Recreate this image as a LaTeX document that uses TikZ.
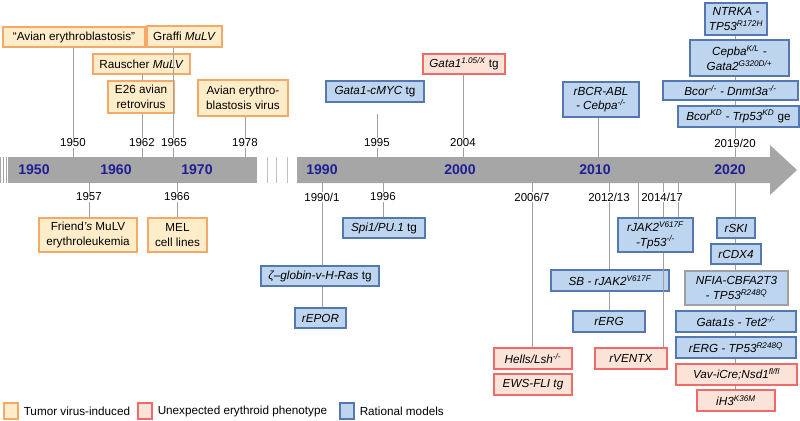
\documentclass[tikz,border=0pt]{standalone}
\usepackage{fontspec}
\setmainfont{Liberation Sans}
\usetikzlibrary{positioning}
\definecolor{virusfill}{HTML}{FFEDC9}
\definecolor{virusline}{HTML}{F4AA66}
\definecolor{oddfill}{HTML}{FCE3D8}
\definecolor{oddline}{HTML}{F06A6A}
\definecolor{ratfill}{HTML}{BDD5EE}
\definecolor{ratline}{HTML}{5578B0}
\definecolor{bargrey}{HTML}{A6A6A6}
\definecolor{linkgrey}{HTML}{A0A0A0}
\definecolor{decblue}{HTML}{1E1E96}
\tikzstyle{box} = [rectangle, inner sep=1pt, align=center, line width=0.9pt, font=\fontsize{10}{12.5}\selectfont]
\tikzstyle{virus} = [box, fill=virusfill, draw=virusline]
\tikzstyle{odd} = [box, fill=oddfill, draw=oddline]
\tikzstyle{rational} = [box, fill=ratfill, draw=ratline]
\tikzstyle{link} = [draw=linkgrey, line width=0.8pt]
\tikzstyle{yearlab} = [fill=white, inner sep=1pt, font=\fontsize{9.8}{11}\selectfont]
\tikzstyle{decade} = [text=decblue, font=\fontsize{12}{14}\selectfont\bfseries]
\tikzstyle{keytext} = [inner sep=0pt, font=\fontsize{10}{12}\selectfont]
\tikzset{wh/.style 2 args={minimum width=#1*0.03cm, minimum height=#2*0.03cm}}

\begin{document}
\begin{tikzpicture}[x=0.03cm, y=-0.03cm]
\useasboundingbox (0,0) rectangle (800,421);

% time bar
\foreach \s in {0, 3, 5.8}
  \fill[bargrey] (\s,157) rectangle ++(1.4,26);
\fill[bargrey] (8,157) rectangle (257,183);
\foreach \s in {266.5, 275.5, 286.5}
  \fill[bargrey!70] (\s,157) rectangle ++(1.2,26);
\fill[bargrey] (297,157) -- (770,157) -- (770,145) -- (797,170) -- (770,195) -- (770,183) -- (297,183) -- cycle;
\foreach \y/\x in {1950/34, 1960/116, 1970/197, 1990/322, 2000/460, 2010/595, 2020/730}
  \node[decade] (dec\y) at (\x,170) {\y};

\foreach \n/\x in {a1950/73, a1962/142, a1965/173, a1978/245, a1995/377, a2004/463, a2010/598, a2019/735}
  \coordinate (\n) at (\x,157);
\foreach \n/\x in {b1957/89, b1966/177, b1990/322, b1996/383, b2006/532, b2012/609, b2014a/638, b2014/663, b2014c/678, b2020/735}
  \coordinate (\n) at (\x,183);

% above the bar
\node (avian) [virus, wh={142}{20}] at (74,37) {“Avian erythroblastosis”};
\node (graffi) [virus, wh={75}{21}] at (184.5,36.5) {Graffi \textit{MuLV}};
\node (rausch) [virus, wh={97}{20}] at (141.5,64) {Rauscher \textit{MuLV}};
\node (etwosix) [virus, wh={66}{32}] at (141,97) {E26 avian\\retrovirus};
\node (aevirus) [virus, wh={90}{36}] at (243,98) {Avian erythro-\\blastosis virus};
\node (gatamyc) [rational, wh={98}{21}] at (375,91.5) {\textit{Gata1-cMYC} tg};
\node (gatalow) [odd, wh={82}{20}] at (464,64) {\textit{Gata1\textsuperscript{1.05/X}} tg};
\node (bcrabl) [rational, wh={76}{35}] at (601,99.5) {\textit{rBCR-ABL}\\\textit{- Cebpa\textsuperscript{-/-}}};
\node (ntrka) [rational, wh={62}{32}] at (736,19) {\textit{NTRKA -}\\\textit{TP53\textsuperscript{R172H}}};
\node (cepba) [rational, wh={99}{36}] at (739.5,58) {\textit{Cepba\textsuperscript{K/L} -}\\\textit{Gata2\textsuperscript{G320D/+}}};
\node (bcordnm) [rational, wh={135}{19}] at (730.5,90.5) {\textit{Bcor\textsuperscript{-/-} - Dnmt3a\textsuperscript{-/-}}};
\node (bcorkd) [rational, wh={121}{21}] at (738.5,116.5) {\textit{Bcor\textsuperscript{KD} - Trp53\textsuperscript{KD}} ge};

% below the bar
\node (friend) [virus, wh={98}{34}] at (88,235) {Friend\textit{’s} MuLV\\erythroleukemia};
\node (mel) [virus, wh={59}{34}] at (177.5,235) {MEL\\cell lines};
\node (spi) [rational, wh={82}{20}] at (384,228) {\textit{Spi1/PU.1} tg};
\node (zeta) [rational, wh={118}{20}] at (320,276) {\textit{ζ–globin-v-H-Ras} tg};
\node (repor) [rational, wh={51}{20}] at (320.5,318) {\textit{rEPOR}};
\node (hells) [odd, wh={78}{21}] at (533,358.5) {\textit{Hells/Lsh\textsuperscript{-/-}}};
\node (ews) [odd, wh={78}{21}] at (533,384.5) {\textit{EWS-FLI tg}};
\node (jakp) [rational, wh={75}{34}] at (655.5,235) {\textit{rJAK2\textsuperscript{V617F}}\\\textit{-Tp53\textsuperscript{-/-}}};
\node (sbjak) [rational, wh={118}{21}] at (610,280.5) {\textit{SB - rJAK2\textsuperscript{V617F}}};
\node (rerg) [rational, wh={72}{21}] at (609,321.5) {\textit{rERG}};
\node (rventx) [odd, wh={72}{21}] at (631,358.5) {\textit{rVENTX}};
\node (rski) [rational, wh={38}{20}] at (736,228) {\textit{rSKI}};
\node (rcdx) [rational, wh={50}{20}] at (736,254) {\textit{rCDX4}};
\node (nfia) [rational, draw=linkgrey, wh={103}{34}] at (736.5,288) {\textit{NFIA-CBFA2T3}\\\textit{- TP53\textsuperscript{R248Q}}};
\node (gatas) [rational, wh={120}{21}] at (736,321.5) {\textit{Gata1s - Tet2\textsuperscript{-/-}}};
\node (rergtp) [rational, wh={120}{21}] at (736,347.5) {\textit{rERG - TP53\textsuperscript{R248Q}}};
\node (vav) [odd, wh={121}{21}] at (736.5,374.5) {\textit{Vav-iCre;Nsd1\textsuperscript{fl/fl}}};
\node (ihthree) [odd, wh={78}{21}] at (736,400.5) {\textit{iH3\textsuperscript{K36M}}};

% connectors
\draw[link] (a1950) -- (a1950 |- avian.south);
\draw[link] (a1962) -- (a1962 |- etwosix.south);
\draw[link] (a1962 |- etwosix.north) -- (a1962 |- rausch.south);
\draw[link] (a1965) -- (a1965 |- graffi.south);
\draw[link] (a1978) -- (a1978 |- aevirus.south);
\draw[link, shorten >=0.33cm] (a1995) -- (a1995 |- gatamyc.south);
\draw[link] (a2004) -- (a2004 |- gatalow.south);
\draw[link] (a2010) -- (a2010 |- bcrabl.south);
\draw[link] (a2019) -- (a2019 |- bcorkd.south);
\foreach \a/\b in {ntrka/cepba, cepba/bcordnm, bcordnm/bcorkd}
  \draw[link] (a2019 |- \a.south) -- (a2019 |- \b.north);

\draw[link] (b1957) -- (b1957 |- friend.north);
\draw[link] (b1966) -- (b1966 |- mel.north);
\draw[link] (b1990) -- (b1990 |- zeta.north);
\draw[link] (b1990 |- zeta.south) -- (b1990 |- repor.north);
\draw[link] (b1996) -- (b1996 |- spi.north);
\draw[link] (b2006) -- (b2006 |- hells.north);
\draw[link] (b2012) -- (b2012 |- sbjak.north);
\draw[link] (b2012 |- sbjak.south) -- (b2012 |- rerg.north);
\foreach \n in {b2014a, b2014, b2014c}
  \draw[link] (\n) -- (\n |- jakp.north);
\draw[link] (b2014 |- jakp.south) -- (b2014 |- rventx.north);
\draw[link] (b2020) -- (b2020 |- rski.north);
\foreach \a/\b in {rski/rcdx, rcdx/nfia, nfia/gatas, gatas/rergtp, rergtp/vav, vav/ihthree}
  \draw[link] (b2020 |- \a.south) -- (b2020 |- \b.north);

% year labels
\foreach \t/\x in {1950/73, 1962/142, 1965/174, 1978/245, 1995/377, 2004/463, 2019\slash20/735}
  \node[yearlab] at (\x,143) {\t};
\foreach \t/\x in {1957/89, 1966/177, 1990\slash1/322, 1996/383, 2006\slash7/532, 2012\slash13/609, 2014\slash17/662}
  \node[yearlab] at (\x,197) {\t};

% legend
\node (key1) [virus, wh={14}{16}] at (11,411) {};
\node (key1txt) [keytext, right=0.15cm of key1] {Tumor virus-induced};
\node (key2) [odd, wh={14}{16}] at (145,411) {};
\node (key2txt) [keytext, right=0.15cm of key2] {Unexpected erythroid phenotype};
\node (key3) [rational, wh={14}{16}] at (347,411) {};
\node (key3txt) [keytext, right=0.15cm of key3] {Rational models};
\end{tikzpicture}
\end{document}
